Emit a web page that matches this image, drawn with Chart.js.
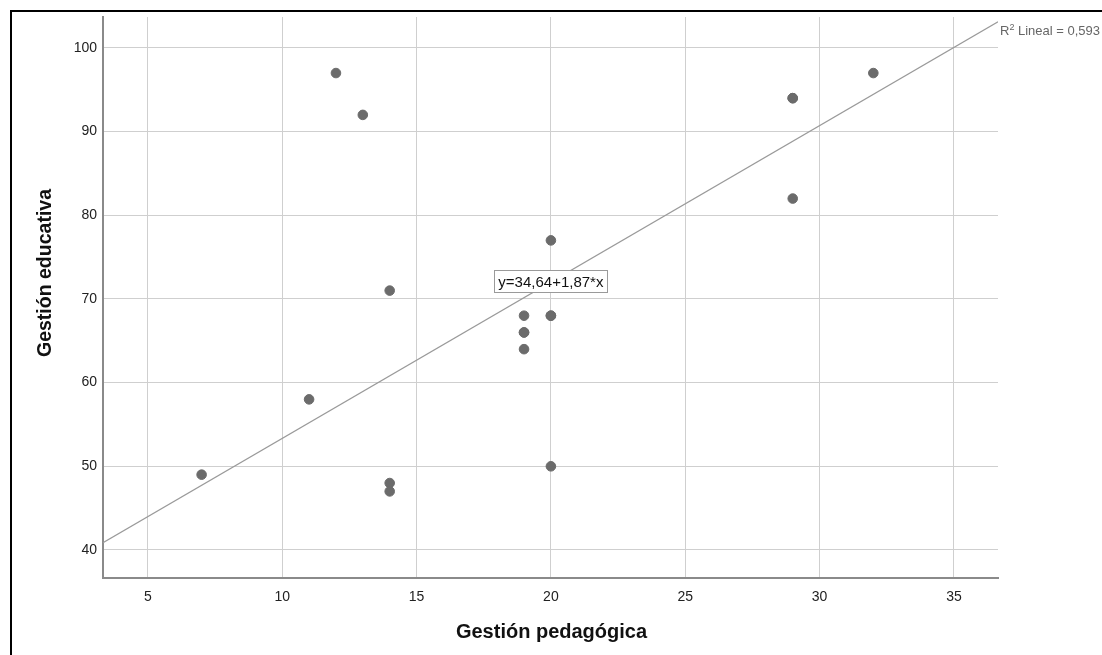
<!DOCTYPE html>
<html>
<head>
<meta charset="utf-8">
<script src="https://cdn.jsdelivr.net/npm/chart.js@4.4.1/dist/chart.umd.min.js"></script>
<style>
  body { margin: 0; background: #fff; overflow: hidden; }
  #frame { position: absolute; left: 10px; top: 10px; width: 1200px; height: 700px; border: 2px solid #000; }
  #wrap { position: absolute; left: 0; top: 0; width: 1102px; height: 655px; }
</style>
</head>
<body>
<div id="frame"></div>
<div id="wrap"><canvas id="myChart" width="1102" height="655"></canvas></div>
<script>
// Puntos (Gestión pedagógica vs Gestión educativa)
var pedagogica = [7, 11, 12, 13, 14, 14, 14, 19, 19, 19, 19, 20, 20, 20, 20, 29, 29, 29, 32];
var educativa  = [49, 58, 97, 92, 71, 48, 47, 68, 66, 66, 64, 77, 68, 68, 50, 94, 94, 82, 97];

// Recta de ajuste: y = 34,64 + 1,87*x, extremos en los bordes del área
var fitX = [3.33, 36.64];
var fitY = [40.87, 103.14];

var xTicks = [5, 10, 15, 20, 25, 30, 35];
var yTicks = [40, 50, 60, 70, 80, 90, 100];

var xTitle = "Gestión pedagógica";
var yTitle = "Gestión educativa";
var equationText = "y=34,64+1,87*x";
var r2Text = " Lineal = 0,593";

var points = pedagogica.map(function(v, i) { return { x: v, y: educativa[i] }; });
var fitLine = fitX.map(function(v, i) { return { x: v, y: fitY[i] }; });

var FONT = "'Liberation Sans', Arial, sans-serif";

// Títulos de ejes, ecuación y R²
var labelsPlugin = {
    id: "fitLabels",
    afterDatasetsDraw: function(chart) {
        var ctx = chart.ctx;
        var xs = chart.scales.x, ys = chart.scales.y;
        ctx.save();

        // caja de la ecuación
        ctx.font = "15px " + FONT;
        var w = Math.round(ctx.measureText(equationText).width + 8);
        var cx = xs.getPixelForValue(20), cy = ys.getPixelForValue(72.1);
        var bx = Math.round(cx - w / 2), by = Math.round(cy - 11);
        ctx.fillStyle = "#fff";
        ctx.fillRect(bx, by, w, 22);
        ctx.strokeStyle = "#9a9a9a";
        ctx.lineWidth = 1;
        ctx.strokeRect(bx + 0.5, by + 0.5, w, 22);
        ctx.fillStyle = "#111";
        ctx.textAlign = "center";
        ctx.textBaseline = "middle";
        ctx.fillText(equationText, cx, cy + 1);

        // R² a la derecha del final de la recta
        var rx = chart.chartArea.right + 2, ry = 35;
        ctx.textAlign = "left";
        ctx.textBaseline = "alphabetic";
        ctx.fillStyle = "#666";
        ctx.font = "13px " + FONT;
        ctx.fillText("R", rx, ry);
        var rw = ctx.measureText("R").width;
        ctx.font = "9px " + FONT;
        ctx.fillText("2", rx + rw, ry - 5);
        var sw = ctx.measureText("2").width;
        ctx.font = "13px " + FONT;
        ctx.fillText(r2Text, rx + rw + sw, ry);

        // títulos de ejes
        ctx.fillStyle = "#111";
        ctx.textAlign = "center";
        ctx.textBaseline = "middle";
        ctx.font = "bold 20px " + FONT;
        ctx.fillText(xTitle, (chart.chartArea.left + chart.chartArea.right) / 2 + 1, 632);
        ctx.translate(46, 273);
        ctx.rotate(-Math.PI / 2);
        ctx.font = "bold 19.5px " + FONT;
        ctx.fillText(yTitle, 0, 0);
        ctx.restore();
    }
};

var ctx = document.getElementById("myChart").getContext("2d");
var chart = new Chart(ctx, {
    type: "scatter",
    data: {
        datasets: [{
            label: "Datos",
            data: points,
            backgroundColor: "#6b6b6b",
            borderColor: "#6b6b6b",
            pointRadius: 4.8,
            pointHoverRadius: 4.8,
            order: 1
        }, {
            type: "line",
            label: "Lineal",
            data: fitLine,
            borderColor: "#9a9a9a",
            borderWidth: 1.2,
            pointRadius: 0,
            fill: false,
            order: 2
        }]
    },
    options: {
        responsive: false,
        animation: false,
        layout: { padding: { left: 20, top: 17, right: 104, bottom: 8 } },
        plugins: { legend: { display: false }, tooltip: { enabled: false } },
        scales: {
            x: {
                type: "linear",
                min: 3.33,
                max: 36.64,
                afterBuildTicks: function(s) { s.ticks = xTicks.map(function(v) { return { value: v }; }); },
                afterFit: function(s) { s.height = 655 - 578 - 8; },
                grid: { color: "#cfcfcf", lineWidth: 1, drawTicks: false },
                border: { color: "#8a8a8a", width: 2 },
                ticks: { color: "#222", padding: 11, maxRotation: 0,
                         font: { family: FONT, size: 14 } }
            },
            y: {
                min: 36.65,
                max: 103.7,
                afterBuildTicks: function(s) { s.ticks = yTicks.map(function(v) { return { value: v }; }); },
                afterFit: function(s) { s.width = 103 - 20; },
                grid: { color: "#cfcfcf", lineWidth: 1, drawTicks: false },
                border: { color: "#8a8a8a", width: 2 },
                ticks: { color: "#222", padding: 6,
                         font: { family: FONT, size: 14 } }
            }
        }
    },
    plugins: [labelsPlugin]
});
</script>
</body>
</html>
